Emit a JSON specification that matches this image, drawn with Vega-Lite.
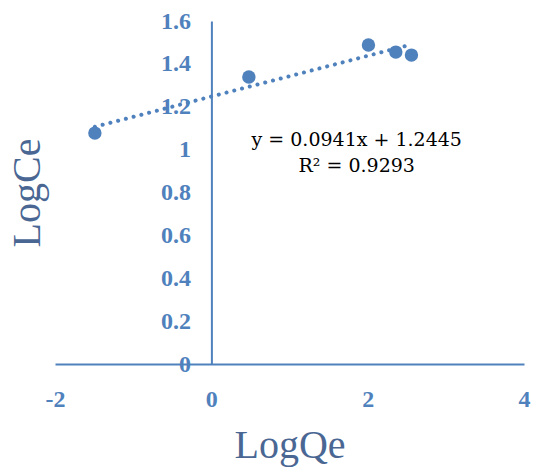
{
  "$schema": "https://vega.github.io/schema/vega-lite/v6.json",
  "width": 469,
  "height": 343,
  "autosize": {"type": "none"},
  "padding": {"left": 55, "top": 21, "right": 13, "bottom": 103},
  "background": "white",
  "config": {"view": {"stroke": null}},
  "datasets": {
    "points": [
      {"LogQe": -1.49, "LogCe": 1.077},
      {"LogQe": 0.48, "LogCe": 1.339},
      {"LogQe": 2.01, "LogCe": 1.488},
      {"LogQe": 2.36, "LogCe": 1.455},
      {"LogQe": 2.56, "LogCe": 1.441}
    ],
    "note": [
      {"LogQe": 1.86, "LogCe": 1.047, "label": "y = 0.0941x + 1.2445"},
      {"LogQe": 1.86, "LogCe": 0.923, "label": "R² = 0.9293"}
    ]
  },
  "layer": [
    {
      "data": {"name": "points"},
      "mark": {"type": "point", "filled": true, "opacity": 1, "size": 180, "color": "#4f81bd"},
      "encoding": {
        "x": {
          "field": "LogQe", "type": "quantitative",
          "scale": {"domain": [-2, 4], "nice": false, "zero": false},
          "axis": {
            "orient": "bottom", "values": [-2, 0, 2, 4], "format": "~g", "grid": false, "ticks": false,
            "labelFlush": false, "labelExpr": "replace(datum.label, '−', '-')",
            "domainColor": "#4f81bd", "domainWidth": 2,
            "labelColor": "#4f81bd", "labelFont": "Liberation Serif", "labelFontWeight": "bold", "labelFontSize": 24,
            "labelPadding": 23,
            "title": "LogQe", "titleFont": "Liberation Serif", "titleFontSize": 40, "titleFontWeight": "normal",
            "titleColor": "#4a6794", "titleBaseline": "alphabetic", "titleY": 93
          }
        },
        "y": {
          "field": "LogCe", "type": "quantitative",
          "scale": {"domain": [0, 1.6], "nice": false},
          "axis": {
            "orient": "left", "offset": -156.4, "values": [0, 0.2, 0.4, 0.6, 0.8, 1, 1.2, 1.4, 1.6],
            "format": "~g", "grid": false, "ticks": false,
            "domainColor": "#4f81bd", "domainWidth": 2,
            "labelColor": "#4f81bd", "labelFont": "Liberation Serif", "labelFontWeight": "bold", "labelFontSize": 24,
            "labelPadding": 21,
            "title": "LogCe", "titleFont": "Liberation Serif", "titleFontSize": 40, "titleFontWeight": "normal",
            "titleColor": "#4a6794", "titleAngle": -90, "titleAlign": "center", "titleBaseline": "middle",
            "titleX": -183.5, "titleY": 171.5
          }
        }
      }
    },
    {
      "data": {"name": "points"},
      "transform": [{"regression": "LogCe", "on": "LogQe"}],
      "mark": {"type": "line", "color": "#4f81bd", "strokeWidth": 4, "strokeCap": "round", "strokeDash": [0.1, 7.9]},
      "encoding": {
        "x": {"field": "LogQe", "type": "quantitative"},
        "y": {"field": "LogCe", "type": "quantitative"}
      }
    },
    {
      "data": {"name": "note"},
      "mark": {"type": "text", "font": "DejaVu Serif", "fontSize": 19, "color": "#000000", "align": "center", "baseline": "middle"},
      "encoding": {
        "x": {"field": "LogQe", "type": "quantitative"},
        "y": {"field": "LogCe", "type": "quantitative"},
        "text": {"field": "label"}
      }
    }
  ]
}
